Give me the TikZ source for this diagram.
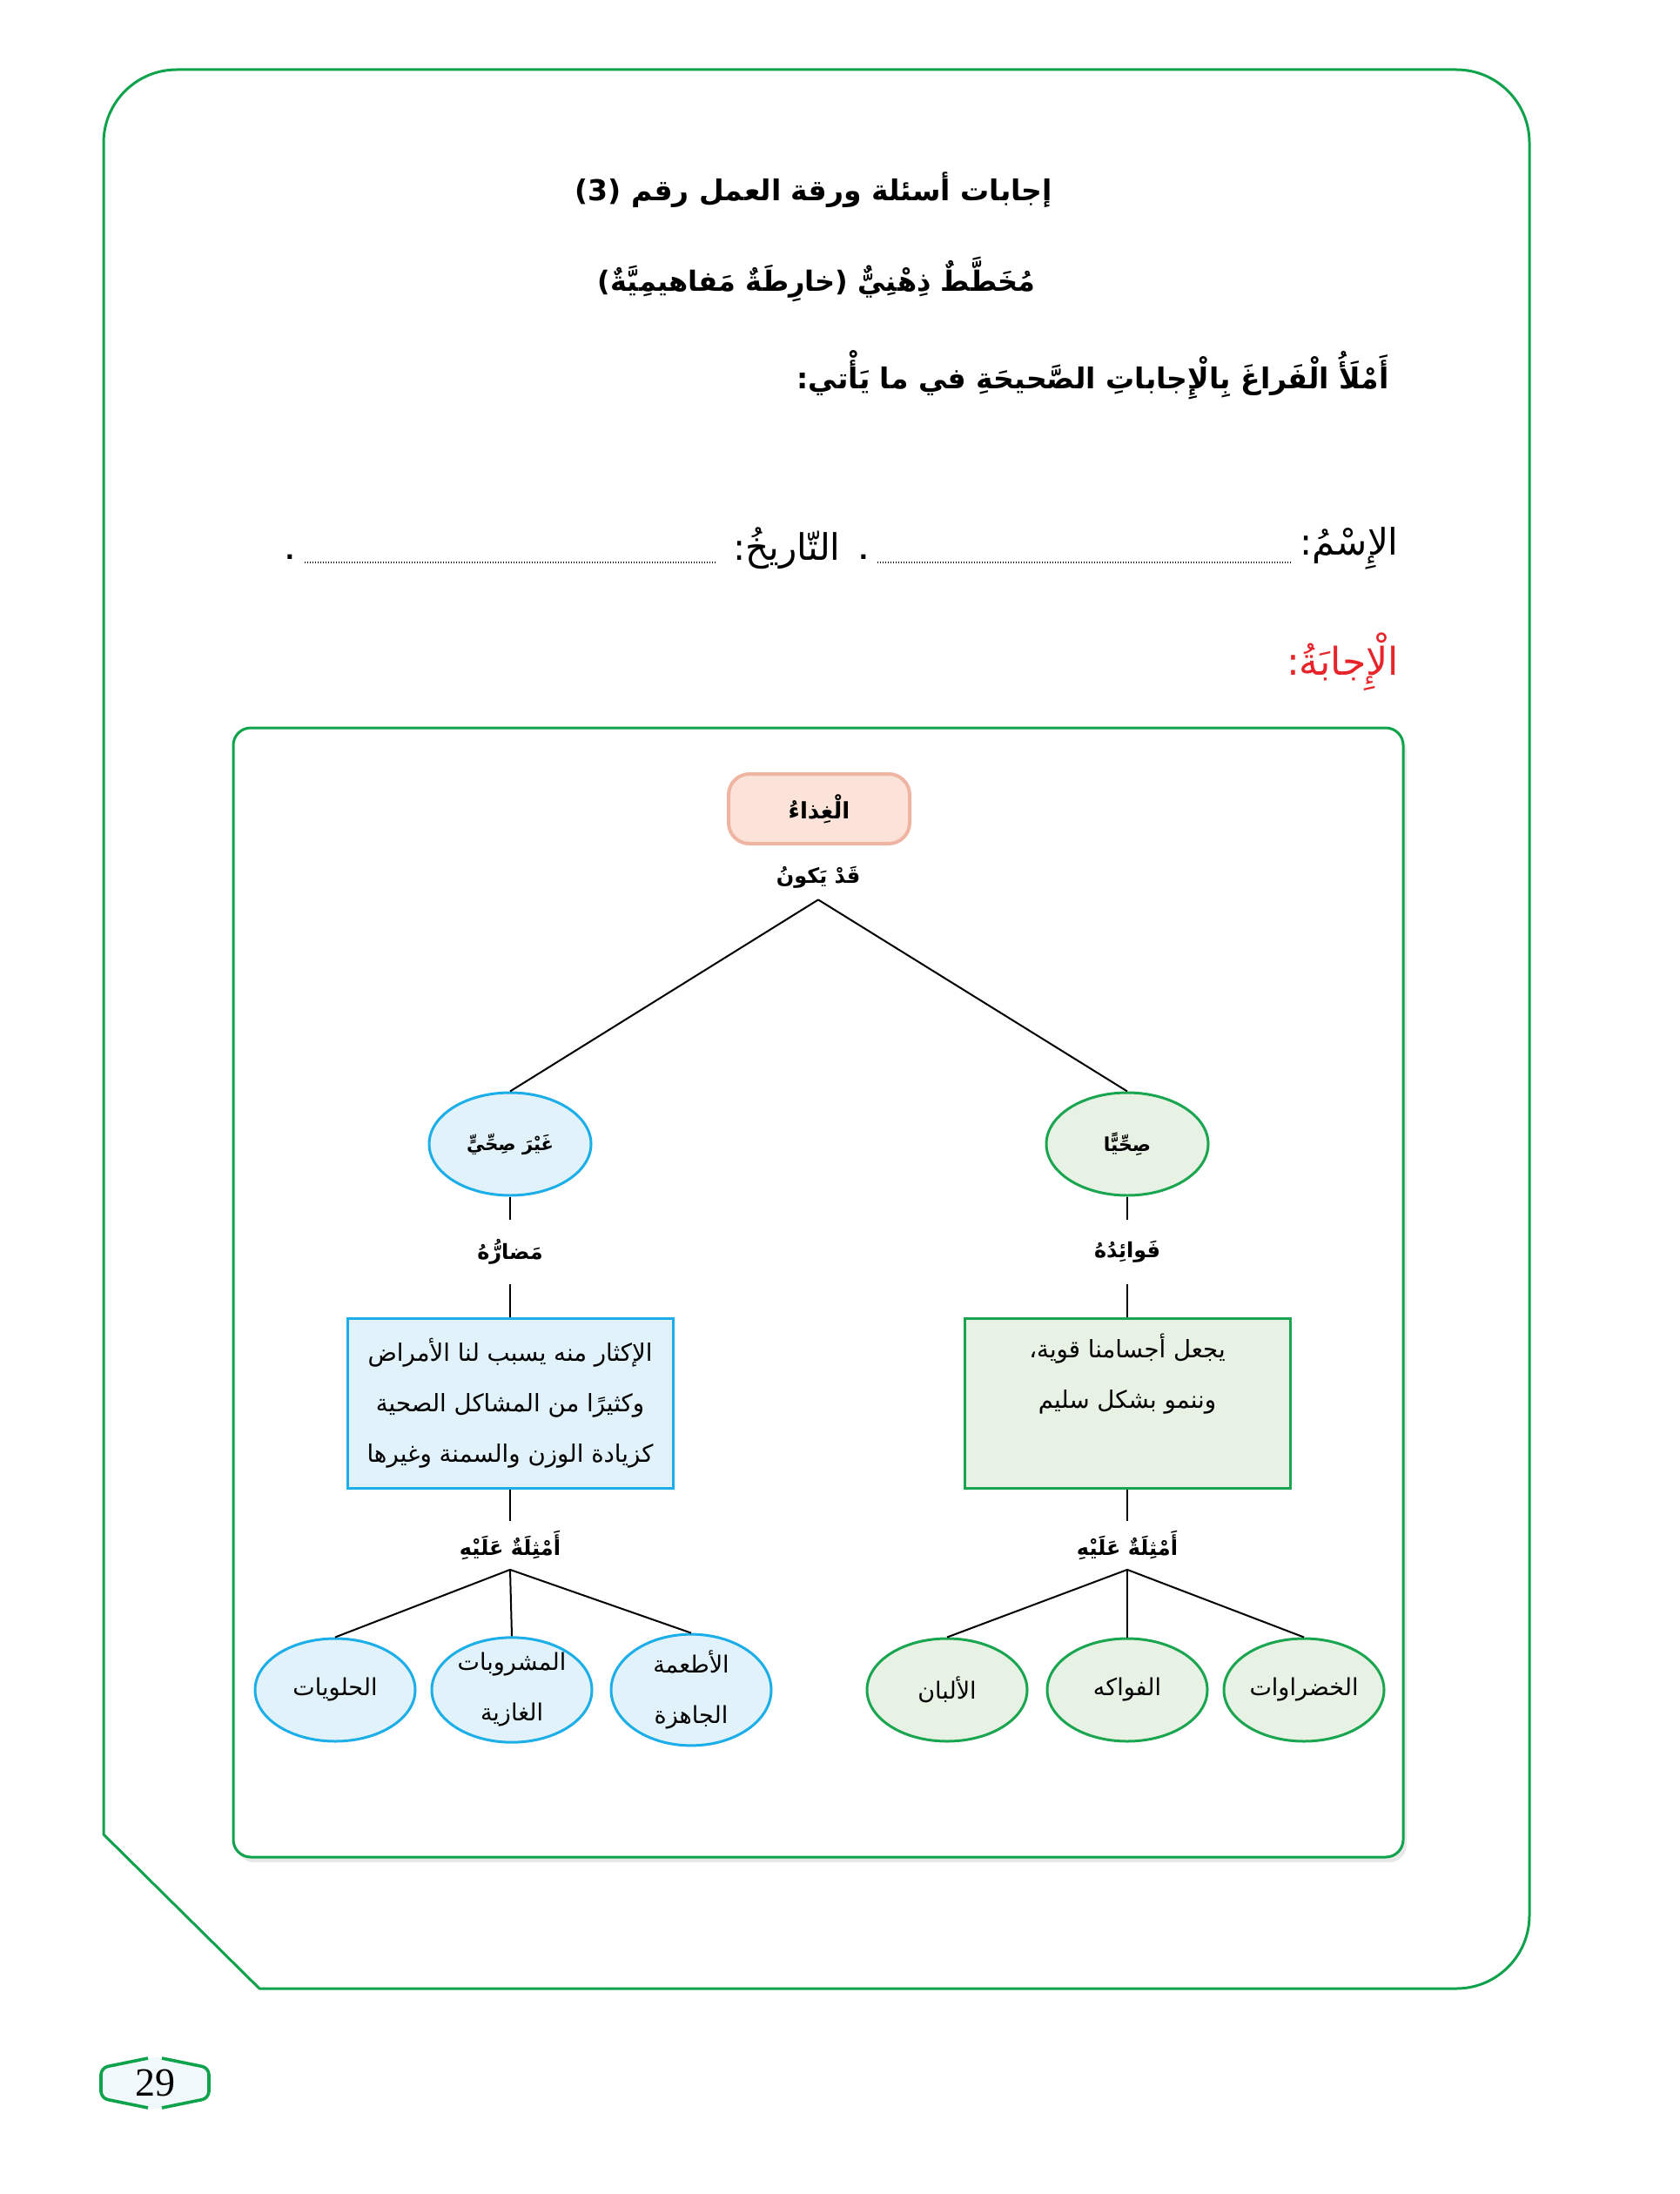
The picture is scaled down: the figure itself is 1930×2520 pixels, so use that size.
\documentclass[tikz,border=0pt]{standalone}
\usepackage{fontspec}
\usetikzlibrary{shapes.geometric,shadows}
\TeXXeTstate=1
\newfontfamily\arabicfont[Script=Arabic]{DejaVu Sans}
\newfontfamily\pgnumfont{Liberation Serif}
\newcommand{\AR}[1]{{\arabicfont\beginR #1\endR}}
\definecolor{frgreen}{HTML}{0FA24C}
\definecolor{cyanb}{HTML}{1CAEE8}
\definecolor{cyanf}{HTML}{E1F2FB}
\definecolor{grnb}{HTML}{1AA650}
\definecolor{grnf}{HTML}{E8F2E4}
\definecolor{pinkb}{HTML}{EFB4A2}
\definecolor{pinkf}{HTML}{FBE3DA}
\definecolor{ansred}{HTML}{E8242B}
\definecolor{pgfill}{HTML}{F1F8FB}
\tikzset{
  conline/.style={line width=1pt, black},
  conn/.style={inner sep=0pt, font=\arabicfont\bfseries\fontsize{12}{15}\selectfont},
  bigell/.style={ellipse, minimum width=93pt, minimum height=59pt, inner sep=0pt, line width=1.5pt, font=\arabicfont\bfseries\fontsize{10.5}{14}\selectfont},
  smallell/.style={ellipse, minimum width=92pt, minimum height=59pt, inner sep=0pt, line width=1.5pt, align=center, font=\arabicfont\fontsize{13.5}{29}\selectfont},
  blueE/.style={draw=cyanb, fill=cyanf},
  greenE/.style={draw=grnb, fill=grnf},
  txtbox/.style={rectangle, minimum width=187pt, minimum height=97.5pt, inner sep=0pt, line width=1.5pt, align=center, font=\arabicfont\fontsize{13.8}{29}\selectfont},
  pinkbox/.style={rectangle, rounded corners=12pt, draw=pinkb, fill=pinkf, line width=2pt, minimum width=104pt, minimum height=40pt, inner sep=0pt, font=\arabicfont\bfseries\fontsize{13}{16}\selectfont},
  leader/.style={line width=0.9pt, dash pattern=on 0.5pt off 1pt, black},
  bigtxt/.style={font=\arabicfont\fontsize{21}{24}\selectfont, inner sep=0pt, anchor=east}
}
\begin{document}
\begin{tikzpicture}[x=0.5pt,y=-0.5pt]
\useasboundingbox (0,0) rectangle (1930,2520);
\fill[white] (0,0) rectangle (1930,2520);

% outer frame
\draw[frgreen, line width=1.5pt, rounded corners=42pt] (119,1500) -- (119,80) -- (1757,80) -- (1757,2284) -- (700,2284);
\draw[frgreen, line width=1.5pt, line join=round] (700,2284) -- (298,2284) -- (119,2107) -- (119,1500);

% header
\node[font=\arabicfont\bfseries\fontsize{16.5}{20}\selectfont, inner sep=0pt] (t1) at (935,218) {\AR{إجابات أسئلة ورقة العمل رقم (3)}};
\node[font=\arabicfont\bfseries\fontsize{16}{20}\selectfont, inner sep=0pt] (t2) at (938,321) {\AR{مُخَطَّطٌ ذِهْنِيٌّ (خارِطَةٌ مَفاهيمِيَّةٌ)}};
\node[font=\arabicfont\bfseries\fontsize{16.5}{22}\selectfont, inner sep=0pt, anchor=east] (t3) at (1596,431) {\AR{أَمْلَأُ الْفَراغَ بِالْإِجاباتِ الصَّحيحَةِ في ما يَأْتي:}};

% name / date line
\node[bigtxt] (nm) at (1607,630) {\AR{الإِسْمُ:}};
\coordinate (nmL) at (1008,646);
\coordinate (nmR) at (1484,646);
\draw[leader] (nmL) -- (nmR);
\node[font=\arabicfont\bfseries\fontsize{14}{16}\selectfont, inner sep=0pt] (p1) at (992,640) {.};
\node[bigtxt] (dt) at (966,630) {\AR{التّاريخُ:}};
\coordinate (dtL) at (350,646);
\coordinate (dtR) at (823,646);
\draw[leader] (dtL) -- (dtR);
\node[font=\arabicfont\bfseries\fontsize{14}{16}\selectfont, inner sep=0pt] (p2) at (333,640) {.};

\node[bigtxt, font=\arabicfont\fontsize{22}{24}\selectfont, text=ansred] (ans) at (1607,760) {\AR{الْإِجابَةُ:}};

% inner frame
\draw[frgreen, line width=1.5pt, rounded corners=10pt, fill=white, drop shadow={opacity=0.18, shadow xshift=2pt, shadow yshift=-3pt}] (268,836) rectangle (1612,2133);

% diagram
\node[pinkbox] (food) at (941,929) {\AR{الْغِذاءُ}};
\node[conn, minimum height=25pt] (qad) at (940,1008) {\AR{قَدْ يَكونُ}};

\node[bigell, blueE] (bad) at (586,1314) {\AR{غَيْرَ صِحِّيٍّ}};
\node[bigell, greenE, font=\arabicfont\bfseries\fontsize{11}{14}\selectfont] (good) at (1295,1314) {\AR{صِحِّيًّا}};
\draw[conline] (qad.south) -- (bad.north);
\draw[conline] (qad.south) -- (good.north);

\node[conn, minimum height=37pt] (harm) at (586,1438) {\AR{مَضارُّهُ}};
\node[conn, minimum height=37pt] (ben) at (1295,1438) {\AR{فَوائِدُهُ}};

\node[txtbox, draw=cyanb, fill=cyanf] (badbox) at (586,1612) {\AR{الإكثار منه يسبب لنا الأمراض}\\\AR{وكثيرًا من المشاكل الصحية}\\\AR{كزيادة الوزن والسمنة وغيرها}};
\node[txtbox, draw=grnb, fill=grnf] (goodbox) at (1295,1612) {\AR{يجعل أجسامنا قوية،}\\\AR{وننمو بشكل سليم}\\\strut};

\draw[conline] (bad.south) -- (harm.north);
\draw[conline] (harm.south) -- (badbox.north);
\draw[conline] (good.south) -- (ben.north);
\draw[conline] (ben.south) -- (goodbox.north);

\node[conn, minimum height=27.5pt] (exL) at (586,1775) {\AR{أَمْثِلَةٌ عَلَيْهِ}};
\node[conn, minimum height=27.5pt] (exR) at (1295,1775) {\AR{أَمْثِلَةٌ عَلَيْهِ}};
\draw[conline] (badbox.south) -- (exL.north);
\draw[conline] (goodbox.south) -- (exR.north);

\node[smallell, blueE] (s1) at (385,1941) {\AR{الحلويات}};
\node[smallell, blueE] (s2) at (588,1941) {\AR{المشروبات}\\\AR{الغازية}};
\node[smallell, blueE] (s3) at (794,1941) {\AR{الأطعمة}\\\AR{الجاهزة}};
\node[smallell, greenE] (g1) at (1088,1941) {\AR{الألبان}};
\node[smallell, greenE] (g2) at (1295,1941) {\AR{الفواكه}};
\node[smallell, greenE] (g3) at (1498,1941) {\AR{الخضراوات}};

\draw[conline] (exL.south) -- (s1.north);
\draw[conline] (exL.south) -- (s2.north);
\draw[conline] (exL.south) -- (s3.north);
\draw[conline] (exR.south) -- (g1.north);
\draw[conline] (exR.south) -- (g2.north);
\draw[conline] (exR.south) -- (g3.north);

% page number
\fill[pgfill, rounded corners=4pt] (116,2375) -- (178,2362) -- (240,2375) -- (240,2410) -- (178,2423) -- (116,2410) -- cycle;
\draw[frgreen, line width=1.8pt, rounded corners=4pt] (170,2364) -- (116,2375) -- (116,2410) -- (170,2421);
\draw[frgreen, line width=1.8pt, rounded corners=4pt] (186,2364) -- (240,2375) -- (240,2410) -- (186,2421);
\node[font=\pgnumfont\fontsize{23}{26}\selectfont, inner sep=0pt] (pg) at (178,2392) {29};
\end{tikzpicture}
\end{document}
